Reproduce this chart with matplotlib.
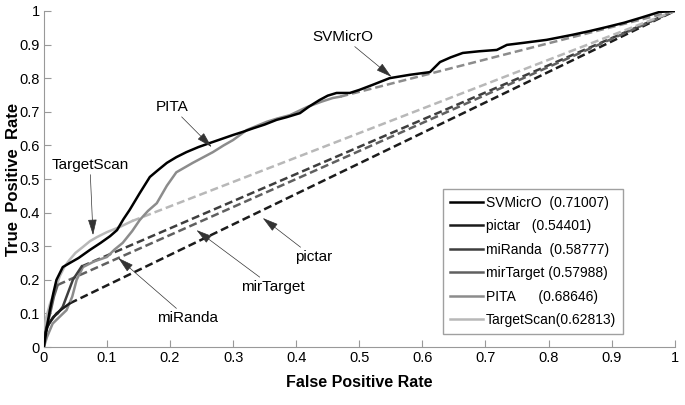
"""
ROC curves of miRNA target predictors, drawn again with matplotlib.
"""

import matplotlib
matplotlib.use("Agg")
from matplotlib import pyplot as plt

# end point of every ROC curve
end_fpr = 1.0
end_tpr = 1.0

# SVMicrO (solid all the way)
svm_fpr = [0, 0.005, 0.0095, 0.015, 0.02, 0.03, 0.041, 0.055, 0.073, 0.09,
           0.105, 0.116, 0.126, 0.136, 0.152, 0.168, 0.18, 0.195, 0.21, 0.226,
           0.245, 0.263, 0.28, 0.3, 0.315, 0.332, 0.35, 0.369, 0.385, 0.406,
           0.42, 0.437, 0.45, 0.464, 0.485, 0.5, 0.521, 0.548, 0.58, 0.612,
           0.628, 0.645, 0.664, 0.69, 0.718, 0.734, 0.76, 0.797, 0.838, 0.865,
           0.892, 0.92, 0.945, 0.976, 1.0]
svm_tpr = [0, 0.06, 0.11, 0.16, 0.2, 0.238, 0.25, 0.265, 0.289, 0.31,
           0.33, 0.348, 0.38, 0.408, 0.458, 0.506, 0.525, 0.548, 0.565, 0.58,
           0.595, 0.607, 0.618, 0.631, 0.64, 0.651, 0.662, 0.676, 0.684, 0.696,
           0.715, 0.735, 0.748, 0.756, 0.756, 0.765, 0.78, 0.8, 0.81, 0.818,
           0.848, 0.862, 0.875, 0.88, 0.884, 0.899, 0.905, 0.914, 0.929, 0.94,
           0.952, 0.965, 0.979, 0.997, 1.0]

# pictar
pictar_fpr = [0, 0.005, 0.012, 0.02, 0.03, 0.041]
pictar_tpr = [0.02, 0.06, 0.08, 0.1, 0.115, 0.13]

# miRanda
miranda_fpr = [0, 0.002, 0.008, 0.015, 0.022, 0.03, 0.038, 0.046, 0.053, 0.06]
miranda_tpr = [0, 0.04, 0.07, 0.09, 0.1, 0.12, 0.16, 0.2, 0.22, 0.24]

# mirTarget
mirtarget_fpr = [0, 0.004, 0.01, 0.016, 0.022]
mirtarget_tpr = [0.02, 0.06, 0.1, 0.15, 0.185]

# PITA
pita_fpr = [0, 0.005, 0.014, 0.025, 0.036, 0.045, 0.052, 0.062, 0.08, 0.1,
            0.112, 0.125, 0.14, 0.152, 0.165, 0.179, 0.195, 0.21, 0.236, 0.25,
            0.268, 0.285, 0.3, 0.322, 0.353, 0.37, 0.39, 0.417, 0.44, 0.458,
            0.47]
pita_tpr = [0, 0.03, 0.07, 0.09, 0.11, 0.15, 0.2, 0.238, 0.255, 0.268,
            0.29, 0.31, 0.345, 0.378, 0.405, 0.428, 0.48, 0.52, 0.548, 0.562,
            0.58, 0.6, 0.616, 0.646, 0.67, 0.68, 0.69, 0.714, 0.73, 0.741,
            0.745]

# TargetScan
tscan_fpr = [0, 0.004, 0.01, 0.018, 0.025, 0.033, 0.041, 0.05, 0.062, 0.073,
             0.084, 0.1, 0.12, 0.14]
tscan_tpr = [0.05, 0.09, 0.13, 0.17, 0.21, 0.24, 0.26, 0.28, 0.298, 0.315,
             0.327, 0.342, 0.357, 0.375]

legend_labels = ["SVMicrO  (0.71007)", "pictar   (0.54401)",
                 "miRanda  (0.58777)", "mirTarget (0.57988)",
                 "PITA      (0.68646)", "TargetScan(0.62813)"]

plt.rcParams["font.family"] = ["Liberation Sans", "DejaVu Sans"]

fig = plt.figure(figsize=(6.85, 4.05), dpi=100)
ax = fig.add_axes([0.064, 0.143, 0.921, 0.83])

curves = [
    (svm_fpr, svm_tpr, "#000000"),
    (pictar_fpr, pictar_tpr, "#1c1c1c"),
    (miranda_fpr, miranda_tpr, "#3e3e3e"),
    (mirtarget_fpr, mirtarget_tpr, "#606060"),
    (pita_fpr, pita_tpr, "#8c8c8c"),
    (tscan_fpr, tscan_tpr, "#b8b8b8"),
]

# dashed tails first, solid parts on top
for fx, ty, col in curves[1:]:
    ax.plot([fx[-1], end_fpr], [ty[-1], end_tpr], color=col, lw=1.8,
            ls=(0, (3.2, 1.6)), zorder=2)

handles = []
for fx, ty, col in reversed(curves):
    h, = ax.plot(fx, ty, color=col, lw=1.8, zorder=3)
    handles.append(h)
handles = handles[::-1]

leg = ax.legend(handles, legend_labels, loc="lower left",
                bbox_to_anchor=(0.632, 0.039), fontsize=10, frameon=True,
                fancybox=False, edgecolor="#888888", handlelength=2.4,
                handletextpad=0.2, labelspacing=0.68, borderpad=0.5,
                borderaxespad=0)
leg.get_frame().set_linewidth(1.0)

arrow = dict(arrowstyle="-|>,head_length=0.9,head_width=0.25",
             color="#333333", lw=0.5, shrinkA=0, shrinkB=0)
notes = [
    ("SVMicrO", (0.551, 0.804), (0.474, 0.923)),
    ("PITA", (0.266, 0.595), (0.203, 0.714)),
    ("TargetScan", (0.078, 0.333), (0.073, 0.542)),
    ("miRanda", (0.118, 0.265), (0.228, 0.086)),
    ("mirTarget", (0.242, 0.348), (0.363, 0.179)),
    ("pictar", (0.347, 0.384), (0.427, 0.268)),
]
for name, tip, txt in notes:
    ax.annotate(name, xy=tip, xytext=txt, fontsize=11, ha="center",
                va="center", arrowprops=arrow)

ax.set_xlim(0, 1)
ax.set_ylim(0, 1)
ticks = [0, 0.1, 0.2, 0.3, 0.4, 0.5, 0.6, 0.7, 0.8, 0.9, 1]
ax.set_xticks(ticks)
ax.set_yticks(ticks)
ax.set_xticklabels(["0", "0.1", "0.2", "0.3", "0.4", "0.5", "0.6", "0.7",
                    "0.8", "0.9", "1"])
ax.set_yticklabels(["0", "0.1", "0.2", "0.3", "0.4", "0.5", "0.6", "0.7",
                    "0.8", "0.9", "1"])
ax.tick_params(direction="in", length=5, color="#999999", labelsize=10.5,
               pad=3)
for s in ["top", "right"]:
    ax.spines[s].set_visible(False)
for s in ["left", "bottom"]:
    ax.spines[s].set_color("#999999")

ax.set_xlabel("False Positive Rate", fontsize=11.5, fontweight="bold",
              labelpad=7)
ax.set_ylabel("True  Positive  Rate", fontsize=12, fontweight="bold")
ax.yaxis.set_label_coords(-0.036, 0.5)

fig.savefig("out.png", dpi=100)
plt.close(fig)
